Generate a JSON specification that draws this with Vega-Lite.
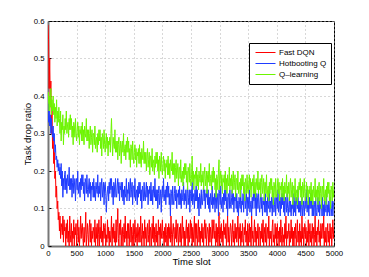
{
"$schema":"https://vega.github.io/schema/vega-lite/v6.json",
"autosize":{"type":"none"},
"width":286,"height":225,
"padding":{"left":48,"top":21,"right":35,"bottom":31},
"background":"white",
"config":{"view":{"stroke":"black","strokeWidth":1},"font":"Liberation Sans"},
"data":{"values":[
{"t":0,"f":0.59,"h":0.38,"q":0.38},{"t":10,"f":0.55,"h":0.33,"q":0.41},{"t":20,"f":0.42,"h":0.36,"q":0.36},{"t":30,"f":0.50,"h":0.32,"q":0.40},{"t":40,"f":0.38,"h":0.35,"q":0.37},{"t":50,"f":0.44,"h":0.30,"q":0.42},{"t":60,"f":0.30,"h":0.34,"q":0.35},{"t":70,"f":0.36,"h":0.31,"q":0.39},{"t":80,"f":0.26,"h":0.29,"q":0.36},{"t":90,"f":0.30,"h":0.32,"q":0.40},
{"t":100,"f":0.22,"h":0.28,"q":0.35},{"t":110,"f":0.25,"h":0.30,"q":0.38},{"t":120,"f":0.18,"h":0.25,"q":0.33},{"t":130,"f":0.20,"h":0.27,"q":0.37},{"t":140,"f":0.13,"h":0.23,"q":0.34},{"t":150,"f":0.16,"h":0.24,"q":0.39},{"t":160,"f":0.10,"h":0.21,"q":0.32},{"t":170,"f":0.12,"h":0.23,"q":0.36},{"t":180,"f":0.07,"h":0.20,"q":0.33},{"t":190,"f":0.09,"h":0.22,"q":0.37},
{"t":200,"f":0.04,"h":0.19,"q":0.34},{"t":210,"f":0.08,"h":0.21,"q":0.30},{"t":220,"f":0.02,"h":0.18,"q":0.36},{"t":230,"f":0.06,"h":0.22,"q":0.28},{"t":240,"f":0.05,"h":0.16,"q":0.33},{"t":250,"f":0.03,"h":0.20,"q":0.31},{"t":260,"f":0.08,"h":0.13,"q":0.35},{"t":270,"f":0.01,"h":0.18,"q":0.27},{"t":280,"f":0.07,"h":0.15,"q":0.32},{"t":290,"f":0.04,"h":0.19,"q":0.30},
{"t":300,"f":0.05,"h":0.20,"q":0.34},{"t":310,"f":0.00,"h":0.15,"q":0.31},{"t":320,"f":0.06,"h":0.18,"q":0.36},{"t":330,"f":0.02,"h":0.14,"q":0.30},{"t":340,"f":0.07,"h":0.19,"q":0.32},{"t":350,"f":0.01,"h":0.17,"q":0.33},{"t":360,"f":0.04,"h":0.16,"q":0.29},{"t":370,"f":0.00,"h":0.21,"q":0.34},{"t":380,"f":0.08,"h":0.15,"q":0.31},{"t":390,"f":0.03,"h":0.18,"q":0.35},
{"t":400,"f":0.01,"h":0.15,"q":0.31},{"t":410,"f":0.06,"h":0.18,"q":0.34},{"t":420,"f":0.00,"h":0.13,"q":0.29},{"t":430,"f":0.04,"h":0.17,"q":0.32},{"t":440,"f":0.02,"h":0.19,"q":0.27},{"t":450,"f":0.07,"h":0.14,"q":0.33},{"t":460,"f":0.00,"h":0.16,"q":0.32},{"t":470,"f":0.05,"h":0.18,"q":0.29},{"t":480,"f":0.03,"h":0.12,"q":0.34},{"t":490,"f":0.06,"h":0.17,"q":0.30},
{"t":500,"f":0.00,"h":0.18,"q":0.28},{"t":510,"f":0.04,"h":0.15,"q":0.31},{"t":520,"f":0.07,"h":0.20,"q":0.33},{"t":530,"f":0.01,"h":0.14,"q":0.29},{"t":540,"f":0.05,"h":0.16,"q":0.32},{"t":550,"f":0.00,"h":0.17,"q":0.27},{"t":560,"f":0.03,"h":0.13,"q":0.31},{"t":570,"f":0.08,"h":0.18,"q":0.30},{"t":580,"f":0.02,"h":0.15,"q":0.32},{"t":590,"f":0.05,"h":0.19,"q":0.28},
{"t":600,"f":0.06,"h":0.16,"q":0.33},{"t":610,"f":0.02,"h":0.19,"q":0.28},{"t":620,"f":0.00,"h":0.14,"q":0.31},{"t":630,"f":0.05,"h":0.17,"q":0.27},{"t":640,"f":0.01,"h":0.12,"q":0.32},{"t":650,"f":0.04,"h":0.18,"q":0.30},{"t":660,"f":0.09,"h":0.17,"q":0.29},{"t":670,"f":0.00,"h":0.14,"q":0.34},{"t":680,"f":0.03,"h":0.19,"q":0.28},{"t":690,"f":0.06,"h":0.15,"q":0.31},
{"t":700,"f":0.03,"h":0.13,"q":0.28},{"t":710,"f":0.00,"h":0.16,"q":0.31},{"t":720,"f":0.05,"h":0.18,"q":0.26},{"t":730,"f":0.07,"h":0.14,"q":0.30},{"t":740,"f":0.01,"h":0.17,"q":0.32},{"t":750,"f":0.06,"h":0.12,"q":0.27},{"t":760,"f":0.00,"h":0.16,"q":0.29},{"t":770,"f":0.04,"h":0.15,"q":0.31},{"t":780,"f":0.02,"h":0.17,"q":0.25},{"t":790,"f":0.05,"h":0.13,"q":0.30},
{"t":800,"f":0.04,"h":0.18,"q":0.30},{"t":810,"f":0.01,"h":0.13,"q":0.27},{"t":820,"f":0.07,"h":0.16,"q":0.32},{"t":830,"f":0.00,"h":0.12,"q":0.26},{"t":840,"f":0.05,"h":0.17,"q":0.28},{"t":850,"f":0.02,"h":0.15,"q":0.29},{"t":860,"f":0.06,"h":0.14,"q":0.25},{"t":870,"f":0.00,"h":0.19,"q":0.30},{"t":880,"f":0.03,"h":0.13,"q":0.27},{"t":890,"f":0.07,"h":0.16,"q":0.31},
{"t":900,"f":0.00,"h":0.14,"q":0.28},{"t":910,"f":0.05,"h":0.17,"q":0.31},{"t":920,"f":0.02,"h":0.12,"q":0.26},{"t":930,"f":0.08,"h":0.16,"q":0.29},{"t":940,"f":0.01,"h":0.18,"q":0.24},{"t":950,"f":0.04,"h":0.13,"q":0.30},{"t":960,"f":0.00,"h":0.15,"q":0.29},{"t":970,"f":0.06,"h":0.17,"q":0.26},{"t":980,"f":0.02,"h":0.11,"q":0.31},{"t":990,"f":0.05,"h":0.16,"q":0.27},
{"t":1000,"f":0.06,"h":0.17,"q":0.25},{"t":1010,"f":0.00,"h":0.14,"q":0.28},{"t":1020,"f":0.03,"h":0.09,"q":0.30},{"t":1030,"f":0.01,"h":0.13,"q":0.26},{"t":1040,"f":0.07,"h":0.15,"q":0.29},{"t":1050,"f":0.02,"h":0.16,"q":0.24},{"t":1060,"f":0.05,"h":0.12,"q":0.28},{"t":1070,"f":0.00,"h":0.17,"q":0.27},{"t":1080,"f":0.04,"h":0.14,"q":0.29},{"t":1090,"f":0.01,"h":0.18,"q":0.25},
{"t":1100,"f":0.03,"h":0.15,"q":0.30},{"t":1110,"f":0.08,"h":0.18,"q":0.34},{"t":1120,"f":0.00,"h":0.13,"q":0.28},{"t":1130,"f":0.05,"h":0.16,"q":0.24},{"t":1140,"f":0.02,"h":0.11,"q":0.29},{"t":1150,"f":0.06,"h":0.17,"q":0.27},{"t":1160,"f":0.01,"h":0.16,"q":0.26},{"t":1170,"f":0.04,"h":0.13,"q":0.31},{"t":1180,"f":0.00,"h":0.18,"q":0.25},{"t":1190,"f":0.07,"h":0.14,"q":0.28},
{"t":1200,"f":0.01,"h":0.13,"q":0.25},{"t":1210,"f":0.05,"h":0.16,"q":0.28},{"t":1220,"f":0.10,"h":0.18,"q":0.23},{"t":1230,"f":0.02,"h":0.14,"q":0.27},{"t":1240,"f":0.00,"h":0.17,"q":0.29},{"t":1250,"f":0.06,"h":0.12,"q":0.24},{"t":1260,"f":0.03,"h":0.16,"q":0.26},{"t":1270,"f":0.07,"h":0.15,"q":0.28},{"t":1280,"f":0.00,"h":0.17,"q":0.22},{"t":1290,"f":0.04,"h":0.13,"q":0.27},
{"t":1300,"f":0.05,"h":0.17,"q":0.28},{"t":1310,"f":0.00,"h":0.12,"q":0.25},{"t":1320,"f":0.03,"h":0.15,"q":0.30},{"t":1330,"f":0.06,"h":0.11,"q":0.24},{"t":1340,"f":0.01,"h":0.16,"q":0.26},{"t":1350,"f":0.08,"h":0.14,"q":0.27},{"t":1360,"f":0.02,"h":0.13,"q":0.23},{"t":1370,"f":0.04,"h":0.18,"q":0.28},{"t":1380,"f":0.00,"h":0.12,"q":0.25},{"t":1390,"f":0.06,"h":0.15,"q":0.29},
{"t":1400,"f":0.02,"h":0.14,"q":0.25},{"t":1410,"f":0.06,"h":0.17,"q":0.28},{"t":1420,"f":0.00,"h":0.12,"q":0.23},{"t":1430,"f":0.04,"h":0.16,"q":0.26},{"t":1440,"f":0.07,"h":0.18,"q":0.21},{"t":1450,"f":0.01,"h":0.13,"q":0.27},{"t":1460,"f":0.05,"h":0.15,"q":0.26},{"t":1470,"f":0.00,"h":0.17,"q":0.23},{"t":1480,"f":0.03,"h":0.11,"q":0.28},{"t":1490,"f":0.06,"h":0.16,"q":0.24},
{"t":1500,"f":0.00,"h":0.16,"q":0.22},{"t":1510,"f":0.03,"h":0.13,"q":0.25},{"t":1520,"f":0.07,"h":0.18,"q":0.27},{"t":1530,"f":0.01,"h":0.12,"q":0.23},{"t":1540,"f":0.05,"h":0.14,"q":0.26},{"t":1550,"f":0.02,"h":0.15,"q":0.21},{"t":1560,"f":0.00,"h":0.11,"q":0.25},{"t":1570,"f":0.06,"h":0.16,"q":0.24},{"t":1580,"f":0.04,"h":0.13,"q":0.26},{"t":1590,"f":0.01,"h":0.17,"q":0.22},
{"t":1600,"f":0.05,"h":0.14,"q":0.27},{"t":1610,"f":0.01,"h":0.17,"q":0.22},{"t":1620,"f":0.08,"h":0.12,"q":0.25},{"t":1630,"f":0.03,"h":0.15,"q":0.21},{"t":1640,"f":0.00,"h":0.10,"q":0.26},{"t":1650,"f":0.06,"h":0.16,"q":0.24},{"t":1660,"f":0.02,"h":0.15,"q":0.23},{"t":1670,"f":0.04,"h":0.12,"q":0.28},{"t":1680,"f":0.00,"h":0.17,"q":0.22},{"t":1690,"f":0.07,"h":0.13,"q":0.25},
{"t":1700,"f":0.02,"h":0.12,"q":0.22},{"t":1710,"f":0.05,"h":0.15,"q":0.25},{"t":1720,"f":0.00,"h":0.17,"q":0.20},{"t":1730,"f":0.04,"h":0.13,"q":0.24},{"t":1740,"f":0.06,"h":0.16,"q":0.26},{"t":1750,"f":0.01,"h":0.11,"q":0.21},{"t":1760,"f":0.03,"h":0.15,"q":0.23},{"t":1770,"f":0.07,"h":0.14,"q":0.25},{"t":1780,"f":0.00,"h":0.16,"q":0.19},{"t":1790,"f":0.05,"h":0.12,"q":0.24},
{"t":1800,"f":0.04,"h":0.17,"q":0.24},{"t":1810,"f":0.00,"h":0.12,"q":0.21},{"t":1820,"f":0.06,"h":0.15,"q":0.26},{"t":1830,"f":0.02,"h":0.11,"q":0.20},{"t":1840,"f":0.08,"h":0.16,"q":0.22},{"t":1850,"f":0.01,"h":0.14,"q":0.23},{"t":1860,"f":0.05,"h":0.13,"q":0.19},{"t":1870,"f":0.00,"h":0.18,"q":0.24},{"t":1880,"f":0.03,"h":0.12,"q":0.21},{"t":1890,"f":0.06,"h":0.15,"q":0.25},
{"t":1900,"f":0.01,"h":0.12,"q":0.22},{"t":1910,"f":0.04,"h":0.15,"q":0.25},{"t":1920,"f":0.00,"h":0.10,"q":0.20},{"t":1930,"f":0.07,"h":0.14,"q":0.23},{"t":1940,"f":0.03,"h":0.16,"q":0.18},{"t":1950,"f":0.05,"h":0.11,"q":0.24},{"t":1960,"f":0.00,"h":0.13,"q":0.23},{"t":1970,"f":0.06,"h":0.15,"q":0.20},{"t":1980,"f":0.02,"h":0.09,"q":0.25},{"t":1990,"f":0.04,"h":0.14,"q":0.21},
{"t":2000,"f":0.07,"h":0.16,"q":0.19},{"t":2010,"f":0.02,"h":0.13,"q":0.22},{"t":2020,"f":0.04,"h":0.18,"q":0.24},{"t":2030,"f":0.00,"h":0.12,"q":0.20},{"t":2040,"f":0.05,"h":0.14,"q":0.23},{"t":2050,"f":0.01,"h":0.15,"q":0.18},{"t":2060,"f":0.06,"h":0.11,"q":0.22},{"t":2070,"f":0.03,"h":0.16,"q":0.21},{"t":2080,"f":0.00,"h":0.13,"q":0.23},{"t":2090,"f":0.05,"h":0.17,"q":0.19},
{"t":2100,"f":0.00,"h":0.13,"q":0.24},{"t":2110,"f":0.06,"h":0.16,"q":0.19},{"t":2120,"f":0.02,"h":0.11,"q":0.22},{"t":2130,"f":0.05,"h":0.14,"q":0.18},{"t":2140,"f":0.01,"h":0.08,"q":0.23},{"t":2150,"f":0.08,"h":0.15,"q":0.21},{"t":2160,"f":0.03,"h":0.14,"q":0.20},{"t":2170,"f":0.00,"h":0.11,"q":0.25},{"t":2180,"f":0.04,"h":0.16,"q":0.19},{"t":2190,"f":0.06,"h":0.12,"q":0.22},
{"t":2200,"f":0.03,"h":0.11,"q":0.19},{"t":2210,"f":0.00,"h":0.14,"q":0.22},{"t":2220,"f":0.05,"h":0.16,"q":0.17},{"t":2230,"f":0.02,"h":0.12,"q":0.21},{"t":2240,"f":0.07,"h":0.15,"q":0.23},{"t":2250,"f":0.01,"h":0.10,"q":0.18},{"t":2260,"f":0.04,"h":0.14,"q":0.20},{"t":2270,"f":0.06,"h":0.13,"q":0.22},{"t":2280,"f":0.00,"h":0.15,"q":0.16},{"t":2290,"f":0.03,"h":0.11,"q":0.21},
{"t":2300,"f":0.05,"h":0.16,"q":0.21},{"t":2310,"f":0.01,"h":0.11,"q":0.18},{"t":2320,"f":0.06,"h":0.14,"q":0.23},{"t":2330,"f":0.00,"h":0.10,"q":0.17},{"t":2340,"f":0.04,"h":0.15,"q":0.19},{"t":2350,"f":0.08,"h":0.13,"q":0.20},{"t":2360,"f":0.02,"h":0.12,"q":0.16},{"t":2370,"f":0.05,"h":0.17,"q":0.21},{"t":2380,"f":0.00,"h":0.11,"q":0.18},{"t":2390,"f":0.04,"h":0.14,"q":0.22},
{"t":2400,"f":0.00,"h":0.12,"q":0.19},{"t":2410,"f":0.04,"h":0.15,"q":0.22},{"t":2420,"f":0.07,"h":0.10,"q":0.17},{"t":2430,"f":0.02,"h":0.14,"q":0.20},{"t":2440,"f":0.05,"h":0.16,"q":0.15},{"t":2450,"f":0.00,"h":0.11,"q":0.21},{"t":2460,"f":0.06,"h":0.13,"q":0.20},{"t":2470,"f":0.01,"h":0.15,"q":0.17},{"t":2480,"f":0.03,"h":0.09,"q":0.22},{"t":2490,"f":0.07,"h":0.14,"q":0.18},
{"t":2500,"f":0.02,"h":0.15,"q":0.16},{"t":2510,"f":0.06,"h":0.12,"q":0.19},{"t":2520,"f":0.00,"h":0.17,"q":0.24},{"t":2530,"f":0.05,"h":0.11,"q":0.17},{"t":2540,"f":0.01,"h":0.13,"q":0.20},{"t":2550,"f":0.04,"h":0.14,"q":0.15},{"t":2560,"f":0.08,"h":0.10,"q":0.19},{"t":2570,"f":0.00,"h":0.15,"q":0.18},{"t":2580,"f":0.06,"h":0.12,"q":0.20},{"t":2590,"f":0.02,"h":0.16,"q":0.16},
{"t":2600,"f":0.06,"h":0.12,"q":0.21},{"t":2610,"f":0.00,"h":0.15,"q":0.16},{"t":2620,"f":0.03,"h":0.10,"q":0.19},{"t":2630,"f":0.07,"h":0.13,"q":0.15},{"t":2640,"f":0.01,"h":0.08,"q":0.20},{"t":2650,"f":0.05,"h":0.14,"q":0.18},{"t":2660,"f":0.00,"h":0.13,"q":0.17},{"t":2670,"f":0.04,"h":0.10,"q":0.22},{"t":2680,"f":0.02,"h":0.15,"q":0.16},{"t":2690,"f":0.06,"h":0.11,"q":0.19},
{"t":2700,"f":0.01,"h":0.11,"q":0.17},{"t":2710,"f":0.05,"h":0.14,"q":0.20},{"t":2720,"f":0.00,"h":0.16,"q":0.15},{"t":2730,"f":0.04,"h":0.12,"q":0.19},{"t":2740,"f":0.07,"h":0.15,"q":0.21},{"t":2750,"f":0.02,"h":0.10,"q":0.16},{"t":2760,"f":0.06,"h":0.14,"q":0.18},{"t":2770,"f":0.00,"h":0.13,"q":0.20},{"t":2780,"f":0.03,"h":0.15,"q":0.14},{"t":2790,"f":0.05,"h":0.11,"q":0.19},
{"t":2800,"f":0.04,"h":0.15,"q":0.20},{"t":2810,"f":0.00,"h":0.10,"q":0.17},{"t":2820,"f":0.06,"h":0.13,"q":0.22},{"t":2830,"f":0.01,"h":0.09,"q":0.16},{"t":2840,"f":0.05,"h":0.14,"q":0.18},{"t":2850,"f":0.03,"h":0.12,"q":0.19},{"t":2860,"f":0.00,"h":0.11,"q":0.15},{"t":2870,"f":0.07,"h":0.16,"q":0.20},{"t":2880,"f":0.02,"h":0.10,"q":0.17},{"t":2890,"f":0.04,"h":0.13,"q":0.21},
{"t":2900,"f":0.07,"h":0.11,"q":0.17},{"t":2910,"f":0.02,"h":0.14,"q":0.20},{"t":2920,"f":0.04,"h":0.09,"q":0.15},{"t":2930,"f":0.00,"h":0.13,"q":0.18},{"t":2940,"f":0.06,"h":0.15,"q":0.13},{"t":2950,"f":0.01,"h":0.10,"q":0.19},{"t":2960,"f":0.05,"h":0.12,"q":0.18},{"t":2970,"f":0.00,"h":0.14,"q":0.15},{"t":2980,"f":0.03,"h":0.08,"q":0.20},{"t":2990,"f":0.09,"h":0.15,"q":0.23},
{"t":3000,"f":0.00,"h":0.14,"q":0.15},{"t":3010,"f":0.05,"h":0.11,"q":0.18},{"t":3020,"f":0.02,"h":0.16,"q":0.20},{"t":3030,"f":0.06,"h":0.10,"q":0.16},{"t":3040,"f":0.01,"h":0.12,"q":0.19},{"t":3050,"f":0.04,"h":0.13,"q":0.14},{"t":3060,"f":0.00,"h":0.09,"q":0.18},{"t":3070,"f":0.07,"h":0.14,"q":0.17},{"t":3080,"f":0.03,"h":0.11,"q":0.19},{"t":3090,"f":0.05,"h":0.15,"q":0.15},
{"t":3100,"f":0.02,"h":0.12,"q":0.20},{"t":3110,"f":0.06,"h":0.15,"q":0.15},{"t":3120,"f":0.00,"h":0.10,"q":0.18},{"t":3130,"f":0.04,"h":0.13,"q":0.14},{"t":3140,"f":0.08,"h":0.08,"q":0.19},{"t":3150,"f":0.01,"h":0.14,"q":0.17},{"t":3160,"f":0.05,"h":0.13,"q":0.16},{"t":3170,"f":0.00,"h":0.10,"q":0.21},{"t":3180,"f":0.03,"h":0.15,"q":0.15},{"t":3190,"f":0.06,"h":0.11,"q":0.18},
{"t":3200,"f":0.05,"h":0.10,"q":0.16},{"t":3210,"f":0.00,"h":0.13,"q":0.19},{"t":3220,"f":0.03,"h":0.15,"q":0.14},{"t":3230,"f":0.07,"h":0.11,"q":0.18},{"t":3240,"f":0.01,"h":0.14,"q":0.20},{"t":3250,"f":0.04,"h":0.09,"q":0.15},{"t":3260,"f":0.00,"h":0.13,"q":0.17},{"t":3270,"f":0.06,"h":0.12,"q":0.19},{"t":3280,"f":0.02,"h":0.14,"q":0.13},{"t":3290,"f":0.05,"h":0.10,"q":0.18},
{"t":3300,"f":0.01,"h":0.14,"q":0.18},{"t":3310,"f":0.04,"h":0.09,"q":0.15},{"t":3320,"f":0.08,"h":0.12,"q":0.20},{"t":3330,"f":0.00,"h":0.08,"q":0.14},{"t":3340,"f":0.05,"h":0.13,"q":0.16},{"t":3350,"f":0.02,"h":0.11,"q":0.17},{"t":3360,"f":0.06,"h":0.10,"q":0.13},{"t":3370,"f":0.00,"h":0.15,"q":0.18},{"t":3380,"f":0.04,"h":0.09,"q":0.15},{"t":3390,"f":0.01,"h":0.12,"q":0.19},
{"t":3400,"f":0.06,"h":0.11,"q":0.16},{"t":3410,"f":0.02,"h":0.14,"q":0.19},{"t":3420,"f":0.00,"h":0.09,"q":0.14},{"t":3430,"f":0.05,"h":0.13,"q":0.17},{"t":3440,"f":0.03,"h":0.15,"q":0.12},{"t":3450,"f":0.07,"h":0.10,"q":0.18},{"t":3460,"f":0.01,"h":0.12,"q":0.17},{"t":3470,"f":0.04,"h":0.14,"q":0.14},{"t":3480,"f":0.00,"h":0.08,"q":0.19},{"t":3490,"f":0.06,"h":0.13,"q":0.15},
{"t":3500,"f":0.00,"h":0.13,"q":0.14},{"t":3510,"f":0.04,"h":0.10,"q":0.17},{"t":3520,"f":0.06,"h":0.15,"q":0.19},{"t":3530,"f":0.01,"h":0.09,"q":0.15},{"t":3540,"f":0.05,"h":0.11,"q":0.18},{"t":3550,"f":0.00,"h":0.12,"q":0.13},{"t":3560,"f":0.08,"h":0.08,"q":0.17},{"t":3570,"f":0.02,"h":0.13,"q":0.16},{"t":3580,"f":0.04,"h":0.10,"q":0.18},{"t":3590,"f":0.00,"h":0.14,"q":0.14},
{"t":3600,"f":0.03,"h":0.12,"q":0.19},{"t":3610,"f":0.07,"h":0.15,"q":0.14},{"t":3620,"f":0.01,"h":0.10,"q":0.17},{"t":3630,"f":0.05,"h":0.13,"q":0.13},{"t":3640,"f":0.00,"h":0.08,"q":0.18},{"t":3650,"f":0.04,"h":0.14,"q":0.16},{"t":3660,"f":0.02,"h":0.13,"q":0.15},{"t":3670,"f":0.06,"h":0.10,"q":0.20},{"t":3680,"f":0.00,"h":0.15,"q":0.14},{"t":3690,"f":0.05,"h":0.11,"q":0.17},
{"t":3700,"f":0.05,"h":0.09,"q":0.15},{"t":3710,"f":0.00,"h":0.12,"q":0.18},{"t":3720,"f":0.04,"h":0.14,"q":0.13},{"t":3730,"f":0.02,"h":0.10,"q":0.17},{"t":3740,"f":0.06,"h":0.13,"q":0.19},{"t":3750,"f":0.01,"h":0.08,"q":0.14},{"t":3760,"f":0.07,"h":0.12,"q":0.16},{"t":3770,"f":0.00,"h":0.11,"q":0.18},{"t":3780,"f":0.03,"h":0.13,"q":0.12},{"t":3790,"f":0.05,"h":0.09,"q":0.17},
{"t":3800,"f":0.01,"h":0.14,"q":0.17},{"t":3810,"f":0.06,"h":0.09,"q":0.14},{"t":3820,"f":0.00,"h":0.12,"q":0.19},{"t":3830,"f":0.03,"h":0.08,"q":0.13},{"t":3840,"f":0.05,"h":0.13,"q":0.15},{"t":3850,"f":0.02,"h":0.11,"q":0.16},{"t":3860,"f":0.08,"h":0.10,"q":0.12},{"t":3870,"f":0.00,"h":0.15,"q":0.17},{"t":3880,"f":0.04,"h":0.09,"q":0.14},{"t":3890,"f":0.02,"h":0.12,"q":0.18},
{"t":3900,"f":0.04,"h":0.10,"q":0.15},{"t":3910,"f":0.00,"h":0.13,"q":0.18},{"t":3920,"f":0.05,"h":0.08,"q":0.13},{"t":3930,"f":0.07,"h":0.12,"q":0.16},{"t":3940,"f":0.01,"h":0.14,"q":0.11},{"t":3950,"f":0.03,"h":0.09,"q":0.17},{"t":3960,"f":0.00,"h":0.11,"q":0.16},{"t":3970,"f":0.06,"h":0.13,"q":0.13},{"t":3980,"f":0.02,"h":0.08,"q":0.18},{"t":3990,"f":0.05,"h":0.12,"q":0.14},
{"t":4000,"f":0.00,"h":0.13,"q":0.13},{"t":4010,"f":0.06,"h":0.10,"q":0.16},{"t":4020,"f":0.02,"h":0.15,"q":0.18},{"t":4030,"f":0.04,"h":0.09,"q":0.14},{"t":4040,"f":0.00,"h":0.11,"q":0.17},{"t":4050,"f":0.05,"h":0.12,"q":0.12},{"t":4060,"f":0.01,"h":0.08,"q":0.16},{"t":4070,"f":0.07,"h":0.13,"q":0.15},{"t":4080,"f":0.03,"h":0.10,"q":0.17},{"t":4090,"f":0.00,"h":0.14,"q":0.13},
{"t":4100,"f":0.05,"h":0.11,"q":0.18},{"t":4110,"f":0.01,"h":0.14,"q":0.13},{"t":4120,"f":0.03,"h":0.09,"q":0.16},{"t":4130,"f":0.00,"h":0.12,"q":0.12},{"t":4140,"f":0.06,"h":0.08,"q":0.17},{"t":4150,"f":0.02,"h":0.13,"q":0.15},{"t":4160,"f":0.08,"h":0.12,"q":0.14},{"t":4170,"f":0.00,"h":0.09,"q":0.19},{"t":4180,"f":0.04,"h":0.14,"q":0.13},{"t":4190,"f":0.02,"h":0.10,"q":0.16},
{"t":4200,"f":0.03,"h":0.08,"q":0.14},{"t":4210,"f":0.06,"h":0.11,"q":0.17},{"t":4220,"f":0.00,"h":0.13,"q":0.12},{"t":4230,"f":0.04,"h":0.09,"q":0.16},{"t":4240,"f":0.01,"h":0.12,"q":0.18},{"t":4250,"f":0.07,"h":0.08,"q":0.13},{"t":4260,"f":0.02,"h":0.11,"q":0.15},{"t":4270,"f":0.05,"h":0.10,"q":0.17},{"t":4280,"f":0.00,"h":0.12,"q":0.11},{"t":4290,"f":0.04,"h":0.08,"q":0.16},
{"t":4300,"f":0.00,"h":0.14,"q":0.16},{"t":4310,"f":0.05,"h":0.09,"q":0.13},{"t":4320,"f":0.02,"h":0.12,"q":0.18},{"t":4330,"f":0.06,"h":0.08,"q":0.12},{"t":4340,"f":0.00,"h":0.13,"q":0.14},{"t":4350,"f":0.03,"h":0.11,"q":0.15},{"t":4360,"f":0.07,"h":0.10,"q":0.11},{"t":4370,"f":0.01,"h":0.15,"q":0.16},{"t":4380,"f":0.04,"h":0.09,"q":0.13},{"t":4390,"f":0.00,"h":0.12,"q":0.17},
{"t":4400,"f":0.06,"h":0.09,"q":0.15},{"t":4410,"f":0.01,"h":0.12,"q":0.18},{"t":4420,"f":0.04,"h":0.08,"q":0.13},{"t":4430,"f":0.00,"h":0.11,"q":0.16},{"t":4440,"f":0.08,"h":0.13,"q":0.11},{"t":4450,"f":0.02,"h":0.08,"q":0.17},{"t":4460,"f":0.05,"h":0.10,"q":0.16},{"t":4470,"f":0.00,"h":0.12,"q":0.13},{"t":4480,"f":0.03,"h":0.08,"q":0.18},{"t":4490,"f":0.06,"h":0.11,"q":0.14},
{"t":4500,"f":0.02,"h":0.13,"q":0.12},{"t":4510,"f":0.05,"h":0.10,"q":0.15},{"t":4520,"f":0.00,"h":0.15,"q":0.17},{"t":4530,"f":0.04,"h":0.09,"q":0.13},{"t":4540,"f":0.01,"h":0.11,"q":0.16},{"t":4550,"f":0.07,"h":0.12,"q":0.11},{"t":4560,"f":0.00,"h":0.08,"q":0.15},{"t":4570,"f":0.03,"h":0.13,"q":0.14},{"t":4580,"f":0.06,"h":0.10,"q":0.16},{"t":4590,"f":0.01,"h":0.14,"q":0.12},
{"t":4600,"f":0.04,"h":0.10,"q":0.17},{"t":4610,"f":0.00,"h":0.13,"q":0.12},{"t":4620,"f":0.06,"h":0.08,"q":0.15},{"t":4630,"f":0.02,"h":0.11,"q":0.11},{"t":4640,"f":0.05,"h":0.08,"q":0.16},{"t":4650,"f":0.00,"h":0.12,"q":0.14},{"t":4660,"f":0.03,"h":0.11,"q":0.13},{"t":4670,"f":0.08,"h":0.08,"q":0.18},{"t":4680,"f":0.01,"h":0.13,"q":0.12},{"t":4690,"f":0.04,"h":0.09,"q":0.15},
{"t":4700,"f":0.00,"h":0.08,"q":0.13},{"t":4710,"f":0.05,"h":0.11,"q":0.16},{"t":4720,"f":0.03,"h":0.13,"q":0.11},{"t":4730,"f":0.07,"h":0.09,"q":0.15},{"t":4740,"f":0.01,"h":0.12,"q":0.17},{"t":4750,"f":0.04,"h":0.08,"q":0.12},{"t":4760,"f":0.00,"h":0.11,"q":0.14},{"t":4770,"f":0.06,"h":0.10,"q":0.16},{"t":4780,"f":0.02,"h":0.12,"q":0.10},{"t":4790,"f":0.05,"h":0.08,"q":0.15},
{"t":4800,"f":0.06,"h":0.13,"q":0.16},{"t":4810,"f":0.02,"h":0.08,"q":0.13},{"t":4820,"f":0.08,"h":0.11,"q":0.18},{"t":4830,"f":0.00,"h":0.08,"q":0.12},{"t":4840,"f":0.04,"h":0.12,"q":0.14},{"t":4850,"f":0.01,"h":0.10,"q":0.15},{"t":4860,"f":0.05,"h":0.09,"q":0.11},{"t":4870,"f":0.00,"h":0.14,"q":0.16},{"t":4880,"f":0.03,"h":0.08,"q":0.13},{"t":4890,"f":0.06,"h":0.11,"q":0.17},
{"t":4900,"f":0.01,"h":0.09,"q":0.14},{"t":4910,"f":0.04,"h":0.12,"q":0.17},{"t":4920,"f":0.00,"h":0.08,"q":0.12},{"t":4930,"f":0.06,"h":0.11,"q":0.15},{"t":4940,"f":0.02,"h":0.13,"q":0.10},{"t":4950,"f":0.05,"h":0.08,"q":0.16},{"t":4960,"f":0.00,"h":0.10,"q":0.15},{"t":4970,"f":0.03,"h":0.12,"q":0.12},{"t":4980,"f":0.07,"h":0.08,"q":0.17},{"t":4990,"f":0.02,"h":0.11,"q":0.13},
{"t":5000,"f":0.05,"h":0.12,"q":0.15}
]},
"transform":[{"fold":["f","h","q"],"as":["series","value"]}],
"mark":{"type":"line","strokeWidth":1,"clip":true},
"encoding":{
"x":{"field":"t","type":"quantitative","scale":{"domain":[0,5000],"nice":false,"zero":false},
"axis":{"title":"Time slot","values":[0,500,1000,1500,2000,2500,3000,3500,4000,4500,5000],"format":"d","labelFontSize":7.8,"labelColor":"black","labelFont":"Liberation Sans","labelFlush":false,"labelOverlap":false,"tickSize":-3,"tickColor":"black","labelPadding":6,"domainColor":"#777","domainWidth":2,"grid":true,"gridColor":"#b0b0b0","gridDash":[1,3],"gridWidth":1,"titleFont":"Liberation Sans","titleFontSize":9.5,"titleFontWeight":"normal","titleColor":"black","titlePadding":0}},
"y":{"field":"value","type":"quantitative","scale":{"domain":[0,0.6],"nice":false},
"axis":{"title":"Task drop ratio","values":[0,0.1,0.2,0.3,0.4,0.5,0.6],"format":"~g","labelFontSize":7.8,"labelColor":"black","labelFont":"Liberation Sans","labelFlush":false,"labelOverlap":false,"tickSize":-3,"tickColor":"black","labelPadding":7,"domainColor":"#777","domainWidth":2,"grid":true,"gridColor":"#b0b0b0","gridDash":[1,3],"gridWidth":1,"titleFont":"Liberation Sans","titleFontSize":9.5,"titleFontWeight":"normal","titleColor":"black","titlePadding":1}},
"color":{"field":"series","type":"nominal","scale":{"domain":["f","h","q"],"range":["#ff0000","#1f3cff","#6cf500"]},
"legend":{"title":null,"orient":"none","legendX":201,"legendY":22,"labelExpr":"datum.label == 'f' ? 'Fast DQN' : datum.label == 'h' ? 'Hotbooting Q' : 'Q–learning'","labelFont":"Liberation Sans","labelFontSize":8,"labelColor":"black","symbolType":"stroke","symbolSize":400,"symbolStrokeWidth":1,"clipHeight":11,"strokeColor":"black","fillColor":"white","padding":4,"rowPadding":0,"labelOffset":3,"symbolOffset":2}}
}
}
